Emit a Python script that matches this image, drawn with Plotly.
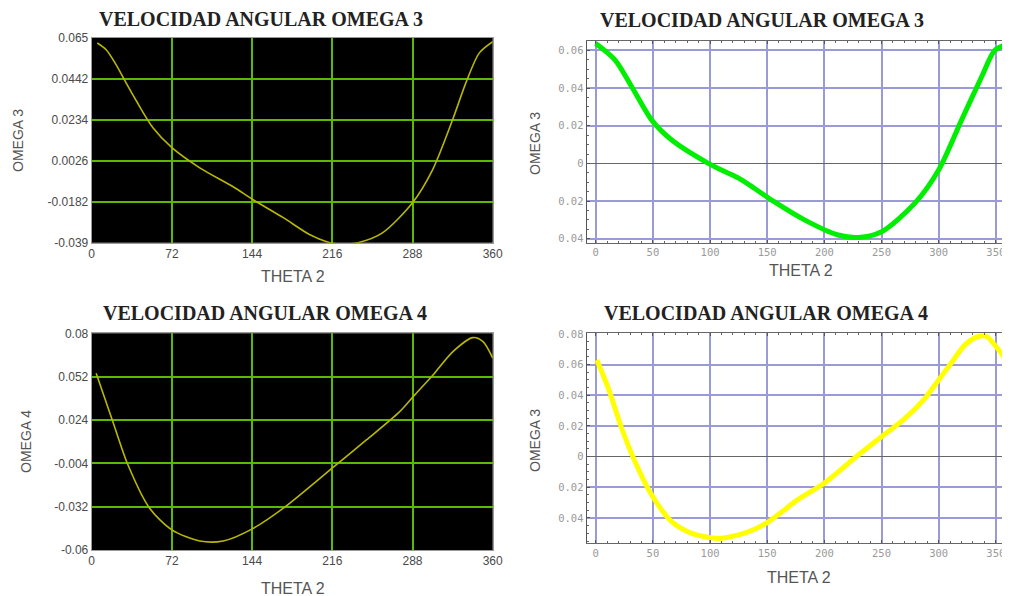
import plotly.graph_objects as go

# ---------------- data ----------------
# top-left: OMEGA 3 (black panel)
theta_tl = [5, 13, 22, 31, 40, 55, 72, 97, 127, 145, 172, 196, 214, 226, 239, 261, 288, 306, 324, 336, 348, 360]
omega3_tl = [0.0623, 0.0589, 0.0512, 0.0419, 0.0330, 0.0193, 0.0092, -0.001, -0.0106, -0.0172, -0.0263, -0.035,
             -0.039, -0.0398, -0.039, -0.034, -0.0187, -0.002, 0.0234, 0.0422, 0.0573, 0.063]

# top-right: OMEGA 3 (white panel, green)
theta_tr = [0, 17, 31.5, 49, 66.5, 98.5, 110, 125, 139, 154, 183, 212, 230, 250, 279, 300, 320, 337.6, 349, 360]
omega3_tr = [0.0637, 0.0549, 0.0407, 0.0230, 0.0124, 0.0, -0.0035, -0.0078, -0.0133, -0.0195, -0.0301, -0.038,
             -0.0393, -0.0363, -0.0212, -0.0035, 0.0230, 0.046, 0.060, 0.0632]

# bottom-left: OMEGA 4 (black panel)
theta_bl = [4, 19, 32.6, 52, 72, 97, 118, 145, 172, 217.5, 246.6, 276.5, 290, 306.4, 324.3, 342.3, 351.3, 360]
omega4_bl = [0.0542, 0.0229, -0.0051, -0.033, -0.047, -0.0542, -0.0542, -0.046, -0.033, -0.0061,
             0.0111, 0.0294, 0.0402, 0.0531, 0.0682, 0.0772, 0.0746, 0.064]

# bottom-right: OMEGA 4 (white panel, yellow)
theta_br = [1, 11, 22.7, 34.4, 49, 66.5, 84, 107, 125, 140, 151, 163, 174, 200.6, 229.7, 250, 270.6, 288,
            300, 311, 323, 334.7, 342, 349, 358]
omega4_br = [0.063, 0.0446, 0.0185, -0.0033, -0.025, -0.0424, -0.050, -0.0533, -0.051, -0.047, -0.0425,
             -0.036, -0.0295, -0.0168, 0.0011, 0.013, 0.025, 0.038, 0.050, 0.061, 0.0728, 0.0783,
             0.0783, 0.0728, 0.064]

# tick labels
xticks_left = [0, 72, 144, 216, 288, 360]
yticks_tl = [-0.039, -0.0182, 0.0026, 0.0234, 0.0442, 0.065]
yticks_bl = [-0.06, -0.032, -0.004, 0.024, 0.052, 0.08]
xticks_right = [0, 50, 100, 150, 200, 250, 300, 350]
yticks_tr = [-0.04, -0.02, 0, 0.02, 0.04, 0.06]
ytext_tr = ["0.04", "0.02", "0", "0.02", "0.04", "0.06"]
yticks_br = [-0.04, -0.02, 0, 0.02, 0.04, 0.06, 0.08]
ytext_br = ["0.04", "0.02", "0", "0.02", "0.04", "0.06", "0.08"]

titles = ["VELOCIDAD ANGULAR OMEGA 3", "VELOCIDAD ANGULAR OMEGA 3",
          "VELOCIDAD ANGULAR OMEGA 4", "VELOCIDAD ANGULAR OMEGA 4"]

W, H = 1010, 596
OFF = 8  # page body margin in the browser
def px(x):
    return (x - OFF) / W
def py(y):
    return 1 - (y - OFF) / H

fig = go.Figure()

OLIVE = "#b8b800"
fig.add_trace(go.Scatter(x=theta_tl, y=omega3_tl, mode="lines", xaxis="x", yaxis="y",
                         line=dict(color=OLIVE, width=1.6, shape="spline", smoothing=0.8), showlegend=False))
fig.add_trace(go.Scatter(x=theta_tr, y=omega3_tr, mode="lines", xaxis="x2", yaxis="y2",
                         line=dict(color="#00ee00", width=5, shape="spline", smoothing=0.8), showlegend=False))
fig.add_trace(go.Scatter(x=theta_bl, y=omega4_bl, mode="lines", xaxis="x3", yaxis="y3",
                         line=dict(color=OLIVE, width=1.6, shape="spline", smoothing=0.8), showlegend=False))
fig.add_trace(go.Scatter(x=theta_br, y=omega4_br, mode="lines", xaxis="x4", yaxis="y4",
                         line=dict(color="#ffff00", width=5, shape="spline", smoothing=0.8), showlegend=False))

tickfont_left = dict(family="Liberation Sans, Arial, sans-serif", size=12, color="#4a4a4a")
tickfont_right = dict(family="DejaVu Sans Mono, monospace", size=10.5, color="#999")

GREEN_GRID = "#5cb800"
BLUE_GRID = "#9a9ad8"

def left_x(domain, anchor):
    return dict(domain=domain, anchor=anchor, range=[0, 360], tickmode="array", tickvals=xticks_left,
                showgrid=True, gridcolor=GREEN_GRID, gridwidth=1.5, zeroline=False,
                showline=True, linecolor="#9a9a9a", linewidth=1, mirror=True, automargin=False,
                ticks="", tickfont=tickfont_left, fixedrange=True)

def left_y(domain, anchor, rng, vals):
    return dict(domain=domain, anchor=anchor, range=rng, tickmode="array", tickvals=vals,
                ticktext=[("%g" % v) for v in vals],
                showgrid=True, gridcolor=GREEN_GRID, gridwidth=1.5, zeroline=False,
                showline=True, linecolor="#9a9a9a", linewidth=1, mirror=True, automargin=False,
                ticks="", tickfont=tickfont_left, fixedrange=True)

def right_x(domain, anchor):
    return dict(domain=domain, anchor=anchor, range=[-7.9, 362.4], tickmode="array", tickvals=xticks_right,
                showgrid=True, gridcolor=BLUE_GRID, gridwidth=1.5, zeroline=False,
                showline=True, linecolor="#666", linewidth=1.2, mirror="ticks", automargin=False,
                ticks="inside", ticklen=3, tickcolor="#555",
                minor=dict(ticks="inside", ticklen=2, dtick=10, tick0=0, tickcolor="#666", showgrid=False),
                tickfont=tickfont_right, fixedrange=True)

def right_y(domain, anchor, rng, vals, text):
    return dict(domain=domain, anchor=anchor, range=rng, tickmode="array", tickvals=vals, ticktext=text,
                showgrid=True, gridcolor=BLUE_GRID, gridwidth=1.5,
                zeroline=True, zerolinecolor="#666", zerolinewidth=1.2,
                showline=True, linecolor="#555", linewidth=1.2, mirror=False, automargin=False,
                ticks="inside", ticklen=3, tickcolor="#555",
                minor=dict(ticks="inside", ticklen=2, dtick=0.005, tickcolor="#666", showgrid=False),
                tickfont=tickfont_right, fixedrange=True)

dx_left = [px(91.7), px(492.7)]
dx_right = [px(586.7), px(1010)]
dy_tl = [py(242.7), py(37.7)]
dy_tr = [py(242.7), py(41)]
dy_bl = [py(550), py(333.3)]
dy_br = [py(543.3), py(333.3)]

fig.update_layout(
    width=W, height=H, margin=dict(l=0, r=0, t=0, b=0, pad=0, autoexpand=False),
    paper_bgcolor="white", plot_bgcolor="rgba(0,0,0,0)",
    xaxis=left_x(dx_left, "y"),
    yaxis=left_y(dy_tl, "x", [-0.039, 0.065], yticks_tl),
    xaxis2=right_x(dx_right, "y2"),
    yaxis2=right_y(dy_tr, "x2", [-0.0421, 0.065], yticks_tr, ytext_tr),
    xaxis3=left_x(dx_left, "y3"),
    yaxis3=left_y(dy_bl, "x3", [-0.06, 0.08], yticks_bl),
    xaxis4=right_x(dx_right, "y4"),
    yaxis4=right_y(dy_br, "x4", [-0.0565, 0.0804], yticks_br, ytext_br),
)

# black backgrounds for the left panels
for d in (dy_tl, dy_bl):
    fig.add_shape(type="rect", xref="paper", yref="paper", x0=dx_left[0], x1=dx_left[1],
                  y0=d[0], y1=d[1], fillcolor="black", line=dict(width=0), layer="below")

title_font = dict(family="Liberation Serif, Times New Roman, serif", size=20, color="#222")
title_pos = [(261, 19), (762, 20), (265, 313), (766, 313)]
for t, (x, y) in zip(titles, title_pos):
    fig.add_annotation(text="<b>%s</b>" % t, x=px(x), y=py(y), xref="paper", yref="paper",
                       showarrow=False, font=title_font, xanchor="center", yanchor="middle")

axis_font = dict(family="Liberation Sans, Arial, sans-serif", size=16, color="#555")
ylabels = [("OMEGA 3", 18, 141), ("OMEGA 3", 535, 144), ("OMEGA 4", 26, 442), ("OMEGA 3", 535, 441)]
for t, x, y in ylabels:
    fig.add_annotation(text=t, x=px(x), y=py(y), xref="paper", yref="paper", textangle=-90,
                       showarrow=False, font=dict(axis_font, size=14), xanchor="center", yanchor="middle")
xlabels = [("THETA 2", 293, 276), ("THETA 2", 801, 270), ("THETA 2", 293, 588), ("THETA 2", 799, 577)]
for t, x, y in xlabels:
    fig.add_annotation(text=t, x=px(x), y=py(y), xref="paper", yref="paper",
                       showarrow=False, font=axis_font, xanchor="center", yanchor="middle")

fig.write_html("out.html")
